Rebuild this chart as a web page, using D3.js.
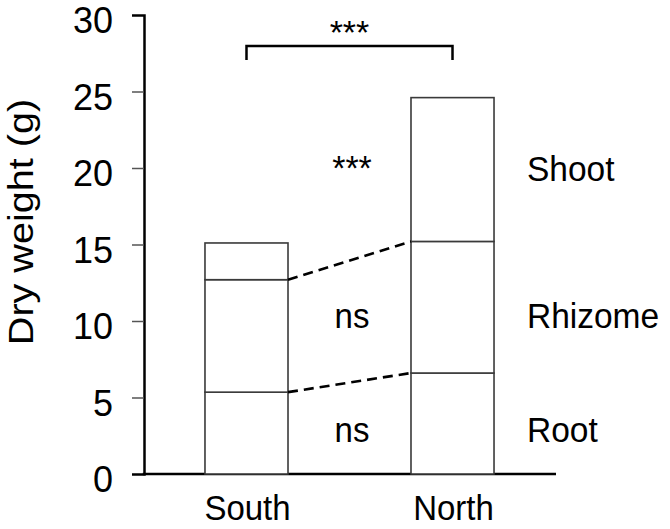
<!DOCTYPE html>
<html><head><meta charset="utf-8">
<script src="https://cdn.jsdelivr.net/npm/d3@7"></script>
<style>body{margin:0;background:#fff}svg{display:block}text{font-family:"Liberation Sans",Arial,sans-serif;fill:#000}</style>
</head><body><svg id="c" width="670" height="529"></svg>
<script>
const categories = ["South", "North"];
const parts = ["Root", "Rhizome", "Shoot"];
const rootVals = [5.35, 6.6];
const rhizomeVals = [7.35, 8.6];
const shootVals = [2.4, 9.4];
const yTicks = [0, 5, 10, 15, 20, 25, 30];
const partSig = ["ns", "ns", "***"];
const totalSig = "***";

const svg = d3.select("#c");
const y = d3.scaleLinear().domain([0, 30]).range([474, 15]);
const x = d3.scaleBand().domain(categories).range([144, 555]).paddingInner(0.597).paddingOuter(0.296);

const rows = categories.map((c, i) => ({cat: c, Root: rootVals[i], Rhizome: rhizomeVals[i], Shoot: shootVals[i]}));
const series = d3.stack().keys(parts)(rows);

// y axis
const yAxis = d3.axisLeft(y).tickValues(yTicks).tickSize(12).tickFormat("");
const gy = svg.append("g").attr("transform", "translate(144,0)").call(yAxis);
gy.select(".domain").attr("stroke", "#000").attr("stroke-width", 2.5);
gy.selectAll(".tick line").attr("stroke", "#555").attr("stroke-width", 1.5)
  .attr("display", d => (d === 30 || d === 0) ? "none" : null);
svg.append("g").selectAll("text").data(yTicks).join("text")
  .attr("transform", d => `translate(113,${y(d) + 18}) scale(1,1.04)`).attr("text-anchor", "end")
  .attr("font-size", 36).text(d => d);

// x axis
const xAxis = d3.axisBottom(x).tickSize(0).tickFormat("");
const gx = svg.append("g").attr("transform", "translate(0,474)").call(xAxis);
gx.select(".domain").attr("stroke", "#000").attr("stroke-width", 2.5).attr("d", "M142.75,0H556");
svg.append("g").selectAll("text").data(categories).join("text")
  .attr("transform", d => `translate(${x(d) + x.bandwidth() / 2 + 1},520) scale(1,1.04)`).attr("text-anchor", "middle")
  .attr("font-size", 33).text(d => d);

// y label
svg.append("text").attr("transform", "translate(33,222) rotate(-90) scale(1.1,1)")
  .attr("text-anchor", "middle").attr("font-size", 36).text("Dry weight (g)");

// stacked bars
series.forEach(s => {
  svg.append("g").selectAll("rect").data(s).join("rect")
    .attr("x", d => x(d.data.cat)).attr("width", x.bandwidth())
    .attr("y", d => y(d[1])).attr("height", d => y(d[0]) - y(d[1]))
    .attr("fill", "#fff").attr("stroke", "#3a3a3a").attr("stroke-width", 1.6);
});

// dashed connectors (root and rhizome tops)
[0, 1].forEach(k => {
  const s = series[k];
  svg.append("line")
    .attr("x1", x("South") + x.bandwidth()).attr("y1", y(s[0][1]))
    .attr("x2", x("North")).attr("y2", y(s[1][1]))
    .attr("stroke", "#000").attr("stroke-width", 2.6).attr("stroke-dasharray", "10,6");
});

// bracket
const bx1 = x("South") + x.bandwidth() / 2, bx2 = x("North") + x.bandwidth() / 2;
svg.append("path").attr("d", `M${bx1},60V46H${bx2}V60`).attr("fill", "none")
  .attr("stroke", "#000").attr("stroke-width", 2.5);
svg.append("text").attr("x", (bx1 + bx2) / 2).attr("y", 44).attr("text-anchor", "middle")
  .attr("font-size", 34).text(totalSig);

// per-part significance and labels
const midX = 352;
const sigY = [441.5, 328, 180];
const labY = [441.5, 328, 181];
parts.forEach((p, i) => {
  svg.append("text").attr("transform", `translate(${midX},${sigY[i]}) scale(1,1.04)`).attr("text-anchor", "middle")
    .attr("font-size", partSig[i] === "***" ? 34 : 33).text(partSig[i]);
  svg.append("text").attr("transform", `translate(527,${labY[i]}) scale(1,1.06)`).attr("font-size", 33.5).text(p);
});
</script></body></html>
